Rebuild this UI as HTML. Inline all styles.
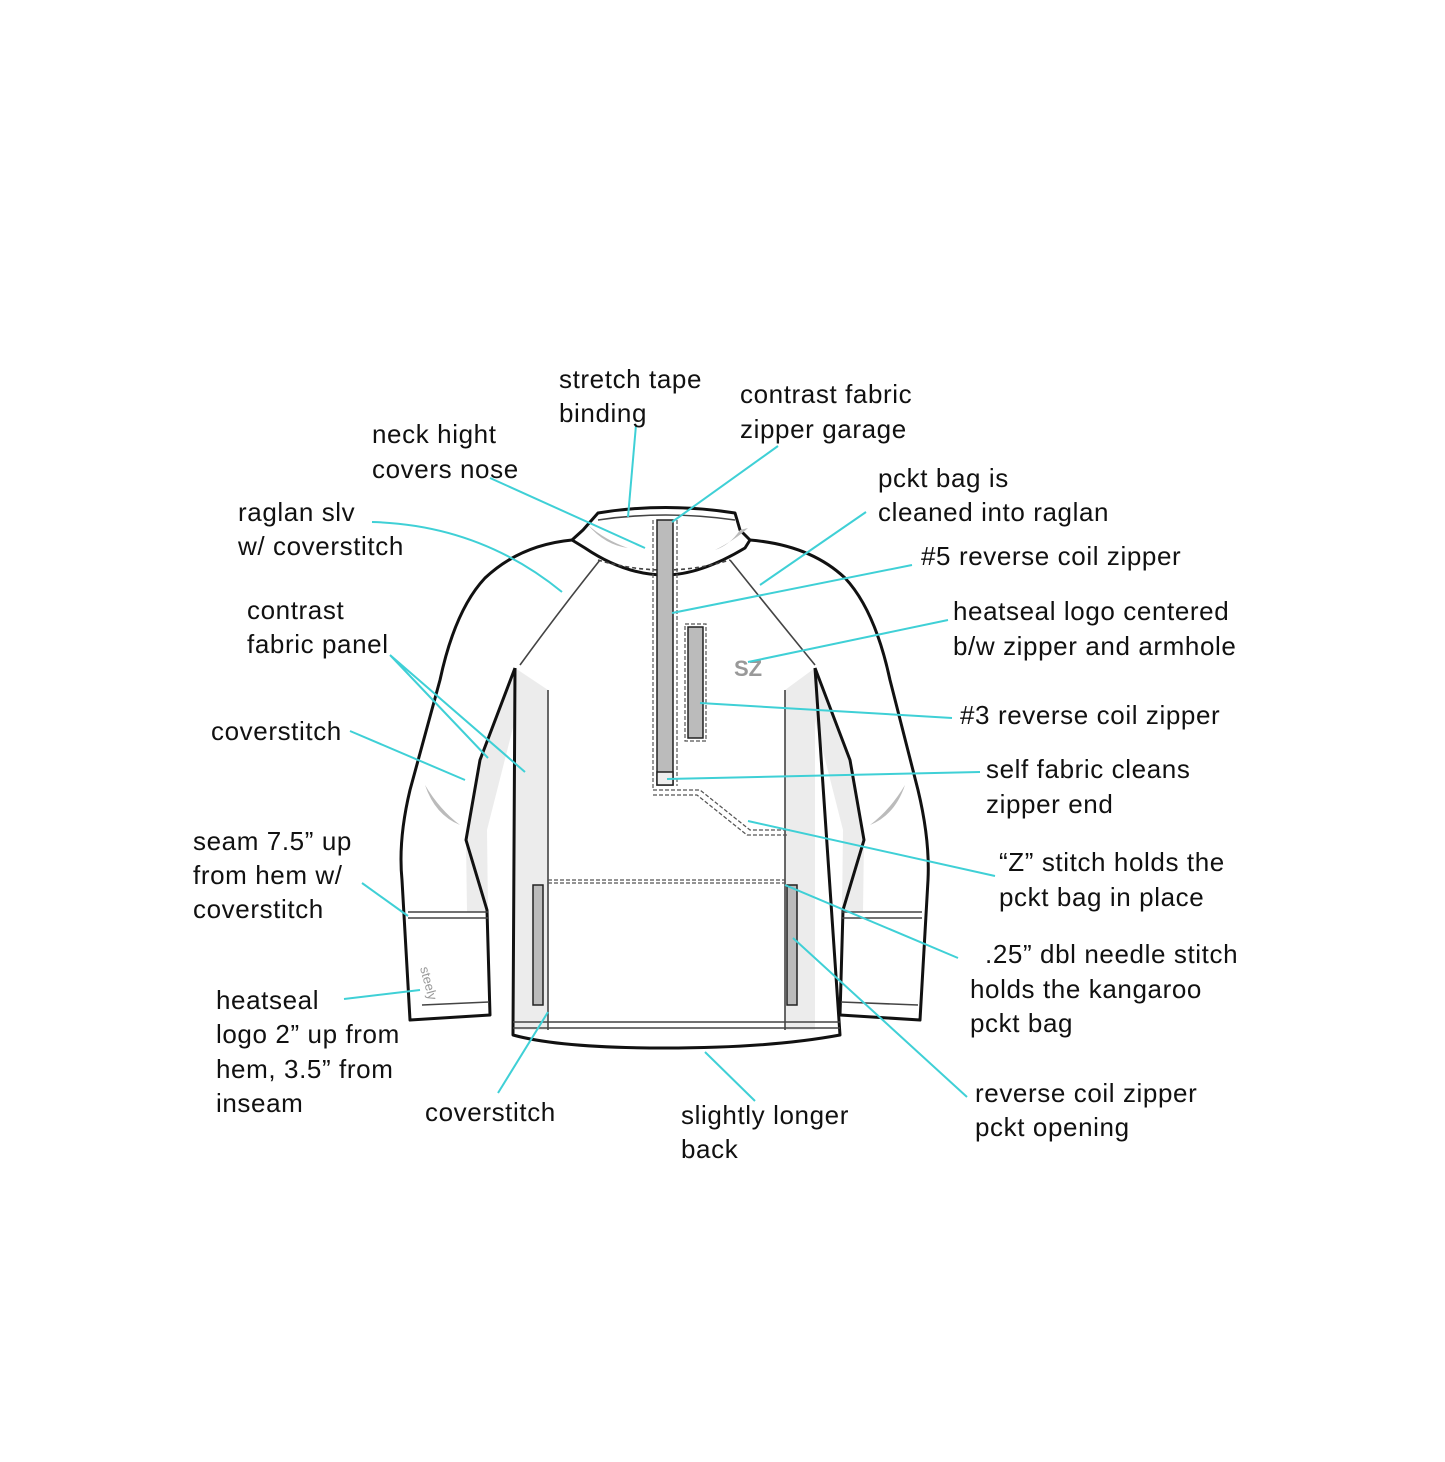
<!DOCTYPE html>
<html><head><meta charset="utf-8"><style>
html,body{margin:0;padding:0;background:#fff;}
svg{display:block;}
text{font-family:"Liberation Sans",sans-serif;font-size:26px;letter-spacing:0.6px;fill:#111;}
</style></head><body>
<svg width="1445" height="1462" viewBox="0 0 1445 1462" xmlns="http://www.w3.org/2000/svg">
<rect width="1445" height="1462" fill="#fff"/>
<g fill="#ececec" stroke="none">
<path d="M515 668 L548 690 L548 1030 L515 1030 Z"/>
<path d="M515 668 L480 760 L466 840 L467 912 L488 912 L487 830 L520 700 Z"/>
<path d="M815 668 L785 690 L785 1030 L815 1030 Z"/>
<path d="M815 668 L850 760 L864 840 L863 912 L842 912 L843 830 L810 700 Z"/>
</g>
<g fill="none" stroke="#111" stroke-width="3" stroke-linejoin="round">
<path d="M598 513 Q665 502 735 513 L740 530 L750 540 L745 548 Q700 575 665 575 Q625 575 585 548 L572 540 L583 530 Z"/>
<path d="M572 540 Q520 545 485 578 Q455 610 440 680 L410 790 Q398 840 402 880 L410 1020 L490 1015 L487 910 L466 840 L480 760 L515 668"/>
<path d="M750 540 Q810 545 845 578 Q875 610 890 680 L918 790 Q930 840 928 880 L920 1020 L840 1015 L843 910 L864 840 L850 760 L815 668"/>
<path d="M515 668 L513 1035 Q560 1048 665 1048 Q770 1048 840 1035 L815 668"/>
</g>
<g fill="none" stroke="#444" stroke-width="1.6">
<path d="M598 520 Q665 510 735 520"/>
<path d="M600 560 Q560 610 520 665"/>
<path d="M730 560 Q770 610 815 665"/>
<path d="M548 690 L548 1030 M785 690 L785 1030"/>
<path d="M513 1022 L840 1022 M513 1028 L840 1028"/>
<path d="M408 912 L488 912 M408 918 L488 918 M842 912 L922 912 M842 918 L922 918"/>
<path d="M422 1005 L489 1002 M841 1002 L918 1005"/>
<path d="M598 560 Q665 580 730 560" stroke-dasharray="4 3"/>
</g>
<g fill="#bbb" stroke="none">
<path d="M588 525 Q605 545 628 548 Q605 540 588 525Z"/>
<path d="M740 530 Q730 545 715 550 Q735 540 748 528Z"/>
<path d="M425 785 Q435 815 460 825 Q440 810 425 785Z"/>
<path d="M905 785 Q895 815 870 825 Q890 810 905 785Z"/>
</g>
<g stroke="#222" stroke-width="1.5">
<rect x="657" y="520" width="16" height="265" fill="#bbb"/>
<rect x="657" y="772" width="16" height="13" fill="#eee"/>
<rect x="688" y="627" width="15" height="111" fill="#bbb"/>
<rect x="533" y="885" width="10" height="120" fill="#bbb"/>
<rect x="787" y="885" width="10" height="120" fill="#bbb"/>
</g>
<g fill="none" stroke="#555" stroke-width="1.2" stroke-dasharray="4 2">
<path d="M653 520 L653 790 L700 790 L750 830 L790 830"/>
<path d="M677 520 L677 786"/>
<path d="M653 795 L697 795 L747 835 L788 835"/>
<path d="M548 880 L785 880 M548 883 L785 883"/>
<rect x="685" y="624" width="21" height="117"/>
</g>
<text x="734" y="676" style="font-size:22px;font-weight:bold;fill:#999;letter-spacing:0">SZ</text>
<text x="0" y="0" transform="translate(420 968) rotate(75)" style="font-size:13px;fill:#999;letter-spacing:0">steely</text>
<g fill="none" stroke="#3fd0d6" stroke-width="2">
<path d="M636 425 L628 517"/>
<path d="M778 446 L672 522"/>
<path d="M490 478 L645 548"/>
<path d="M372 522 Q480 525 562 592"/>
<path d="M866 512 L760 585"/>
<path d="M912 565 L672 613"/>
<path d="M948 620 L748 662"/>
<path d="M390 655 L488 758 M390 655 L525 772"/>
<path d="M952 718 L700 703"/>
<path d="M350 731 L465 780"/>
<path d="M980 772 L667 779"/>
<path d="M995 876 L748 821"/>
<path d="M362 883 L408 916"/>
<path d="M958 958 L785 885"/>
<path d="M344 999 L420 990"/>
<path d="M967 1097 L793 938"/>
<path d="M498 1093 L548 1012"/>
<path d="M755 1101 L705 1052"/>
</g>
<text x="559" y="388">stretch tape</text><text x="559" y="422">binding</text>
<text x="740" y="403">contrast fabric</text><text x="740" y="438">zipper garage</text>
<text x="372" y="443">neck hight</text><text x="372" y="478">covers nose</text>
<text x="878" y="487">pckt bag is</text><text x="878" y="521">cleaned into raglan</text>
<text x="238" y="521">raglan slv</text><text x="238" y="555">w/ coverstitch</text>
<text x="921" y="565">#5 reverse coil zipper</text>
<text x="247" y="619">contrast</text><text x="247" y="653">fabric panel</text>
<text x="953" y="620">heatseal logo centered</text><text x="953" y="655">b/w zipper and armhole</text>
<text x="960" y="724">#3 reverse coil zipper</text>
<text x="211" y="740">coverstitch</text>
<text x="986" y="778">self fabric cleans</text><text x="986" y="813">zipper end</text>
<text x="193" y="850">seam 7.5” up</text><text x="193" y="884">from hem w/</text><text x="193" y="918">coverstitch</text>
<text x="999" y="871">“Z” stitch holds the</text><text x="999" y="906">pckt bag in place</text>
<text x="985" y="963">.25” dbl needle stitch</text><text x="970" y="998">holds the kangaroo</text><text x="970" y="1032">pckt bag</text>
<text x="216" y="1009">heatseal</text><text x="216" y="1043">logo 2” up from</text><text x="216" y="1078">hem, 3.5” from</text><text x="216" y="1112">inseam</text>
<text x="425" y="1121">coverstitch</text>
<text x="681" y="1124">slightly longer</text><text x="681" y="1158">back</text>
<text x="975" y="1102">reverse coil zipper</text><text x="975" y="1136">pckt opening</text>
</svg>
</body></html>
